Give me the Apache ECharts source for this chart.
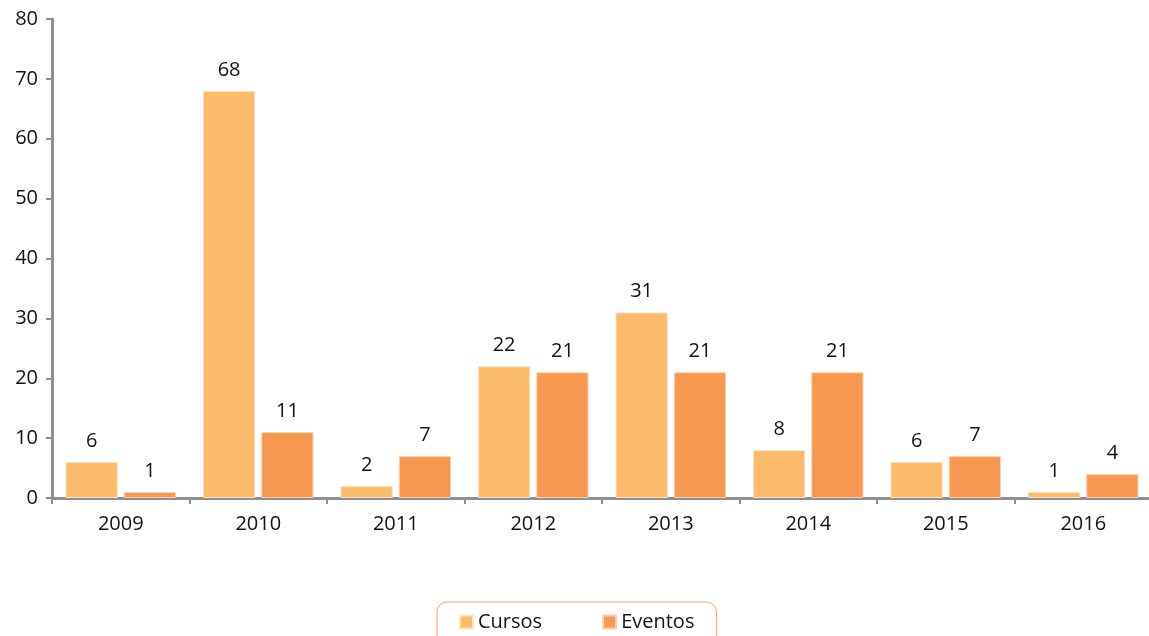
<!DOCTYPE html>
<html>
<head>
<meta charset="utf-8">
<script src="https://cdn.jsdelivr.net/npm/echarts@6/dist/echarts.min.js"></script>
<style>
  html, body { margin: 0; padding: 0; background: #fff; }
  #chart { width: 1149px; height: 636px; }
</style>
</head>
<body>
<div id="chart"></div>
<script>
var years = ["2009", "2010", "2011", "2012", "2013", "2014", "2015", "2016"];
var cursos = [6, 68, 2, 22, 31, 8, 6, 1];
var eventos = [1, 11, 7, 21, 21, 21, 7, 4];
var yTicks = [0, 10, 20, 30, 40, 50, 60, 70, 80];

var font = "Open Sans, Noto Sans, sans-serif";
var axisGray = "#8f8f8f";

var myChart = echarts.init(document.getElementById("chart"));
var option = {
  animation: false,
  textStyle: { fontFamily: font },
  grid: {
    left: 52, right: -3, top: 19, bottom: 138,
    containLabel: false,
    outerBoundsMode: "none"
  },
  legend: {
    bottom: -10,
    left: 437,
    data: ["Cursos", "Eventos"],
    itemWidth: 13,
    itemHeight: 13,
    itemGap: 60,
    itemTextGap: 4,
    padding: [10, 22, 14, 22],
    borderColor: "#f5a468",
    borderWidth: 1,
    borderRadius: 10,
    textStyle: { fontSize: 20, color: "#111", fontFamily: font },
    icon: "rect"
  },
  xAxis: {
    type: "category",
    data: years,
    axisLine: { show: true, lineStyle: { color: axisGray, width: 3 } },
    axisTick: { show: true, length: 6, lineStyle: { color: axisGray, width: 2 } },
    axisLabel: { fontSize: 20, color: "#111", margin: 16 }
  },
  yAxis: {
    type: "value",
    min: yTicks[0],
    max: yTicks[yTicks.length - 1],
    interval: 10,
    splitLine: { show: false },
    axisLine: { show: true, lineStyle: { color: axisGray, width: 3 } },
    axisTick: { show: true, length: 6, lineStyle: { color: axisGray, width: 2 } },
    axisLabel: { fontSize: 20, color: "#111", margin: 14 }
  },
  series: [
    {
      name: "Cursos",
      type: "bar",
      data: cursos,
      barWidth: "38%",
      barGap: "11.5%",
      itemStyle: { color: "#fbbb6a", borderColor: "#fde3c0", borderWidth: 1 },
      label: { show: true, position: "top", fontSize: 20, color: "#111", distance: 11 }
    },
    {
      name: "Eventos",
      type: "bar",
      data: eventos,
      barWidth: "38%",
      itemStyle: { color: "#f79851", borderColor: "#fbd0b0", borderWidth: 1 },
      label: { show: true, position: "top", fontSize: 20, color: "#111", distance: 11 }
    }
  ]
};
myChart.setOption(option);
</script>
</body>
</html>
